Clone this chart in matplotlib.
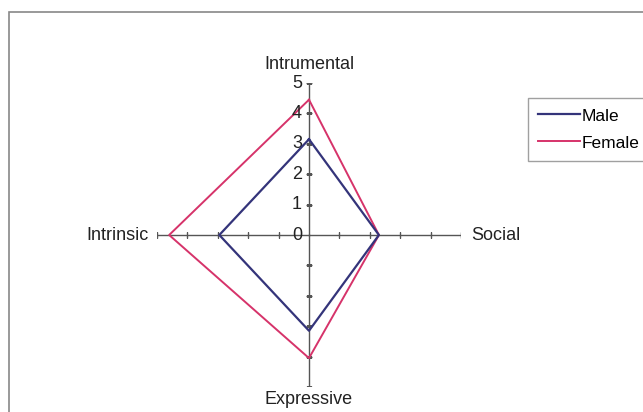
import numpy as np
import matplotlib.pyplot as plt
from matplotlib.patches import Rectangle

plt.rcParams['font.family'] = ['Liberation Sans', 'DejaVu Sans']

categories = ["Intrumental", "Social", "Expressive", "Intrinsic"]
male = [3.15, 2.3, 3.15, 2.95]
female = [4.45, 2.3, 4.05, 4.6]
ticks = [0, 1, 2, 3, 4, 5]

angles = np.linspace(0, 2 * np.pi, len(categories), endpoint=False)

fig = plt.figure(figsize=(6.43, 4.12), dpi=100)
ax = fig.add_axes([157 / 643, 25 / 412, 304 / 643, 304 / 412], projection='polar')
ax.set_theta_zero_location('N')
ax.set_theta_direction(-1)
ax.set_ylim(0, 5)
ax.grid(False)
ax.spines['polar'].set_visible(False)
ax.set_xticks([])
ax.set_yticks([])
ax.patch.set_alpha(0)

# axes with tick marks
axis_col = '#555555'
for i, a in enumerate(angles):
    ax.plot([a, a], [0, 5], color=axis_col, lw=1, zorder=1)
    mk = '_' if i % 2 == 0 else '|'
    ax.plot([a] * 5, ticks[1:], ls='none', marker=mk, ms=5, mew=1,
            color=axis_col, zorder=1)

# value labels on the top axis
for t in ticks:
    ax.annotate(str(t), (0, t), xytext=(-5, 0), textcoords='offset points',
                ha='right', va='center', fontsize=13, color='#222222')

# category labels
offsets = [(0, 7, 'center', 'bottom'), (7, 0, 'left', 'center'),
           (0, -3, 'center', 'top'), (-6, 0, 'right', 'center')]
for a, name, (dx, dy, ha, va) in zip(angles, categories, offsets):
    ax.annotate(name, (a, 5), xytext=(dx, dy), textcoords='offset points',
                ha=ha, va=va, fontsize=13, color='#222222')

th = np.append(angles, angles[0])
ax.plot(th, male + male[:1], color='#34347a', lw=1.6, label='Male', zorder=3)
ax.plot(th, female + female[:1], color='#d6336a', lw=1.4, label='Female', zorder=2)

leg = fig.legend(loc='upper left', bbox_to_anchor=(528 / 643, 1 - 98 / 412),
                 fontsize=12.5, frameon=True, fancybox=False, edgecolor='#888888',
                 handlelength=2.4, handletextpad=0.1, borderpad=0.6,
                 labelspacing=0.68, borderaxespad=0)
leg.get_frame().set_linewidth(1)

fig.patches.append(Rectangle((9 / 643, -0.1), 1.2, 1.1 - 12 / 412, fill=False,
                             edgecolor='#888888', lw=1.2,
                             transform=fig.transFigure, figure=fig))

fig.savefig('out.png', dpi=100)
